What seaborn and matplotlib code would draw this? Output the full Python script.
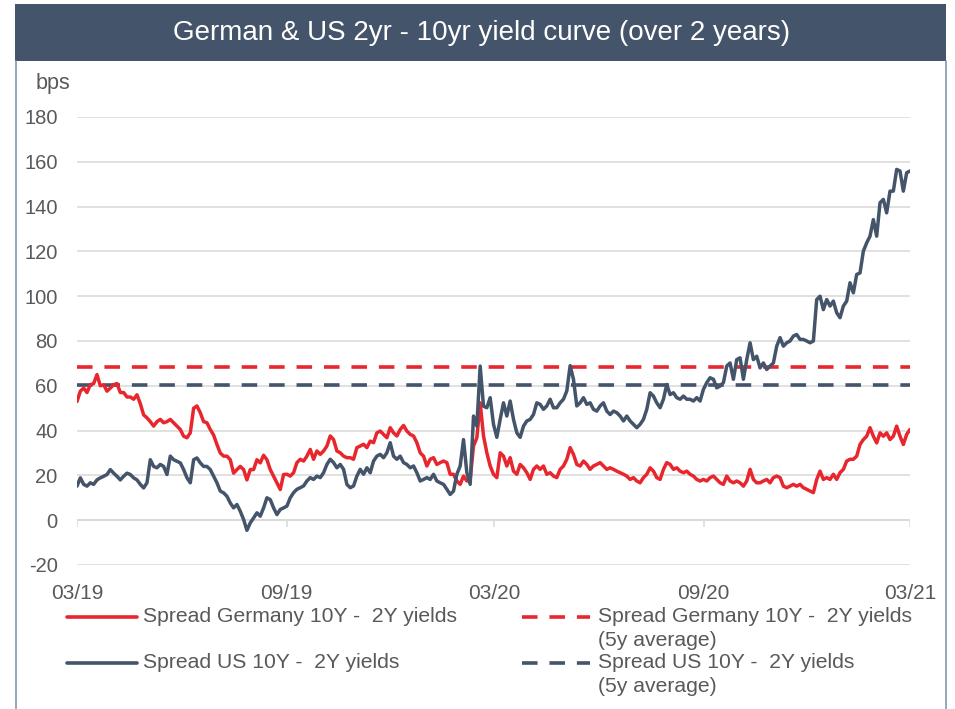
import numpy as np
import pandas as pd
import matplotlib
matplotlib.use("Agg")
import matplotlib.pyplot as plt
from matplotlib.lines import Line2D
from matplotlib.patches import Rectangle
import seaborn as sns

# ---------------- data ----------------
title = "German & US 2yr - 10yr yield curve (over 2 years)"
unit_label = "bps"
start_date = "2019-03-01"
end_date = "2021-03-01"
tick_dates = ["2019-03-01", "2019-09-01", "2020-03-01", "2020-09-01", "2021-03-01"]
tick_labels = ["03/19", "09/19", "03/20", "09/20", "03/21"]
y_ticks = [-20, 0, 20, 40, 60, 80, 100, 120, 140, 160, 180]

legend_labels = [
    "Spread Germany 10Y -  2Y yields",
    "Spread Germany 10Y -  2Y yields\n(5y average)",
    "Spread US 10Y -  2Y yields",
    "Spread US 10Y -  2Y yields\n(5y average)",
]

germany_spread = [
    53, 57.6, 59, 57, 60.5, 61, 65, 60, 60.5, 57.6,
    59, 60.5, 61, 57, 57, 55, 55, 54, 56, 52,
    47, 45.7, 44, 42, 44, 45, 43.5, 44, 45, 43.5,
    42, 40.5, 37.5, 36.8, 39, 50, 51, 48, 44, 43.5,
    40.5, 38, 33.8, 30, 28.6, 28.6, 27, 21, 22.6, 24,
    22.6, 18, 22.6, 22.6, 27, 25.6, 29, 27, 22.6, 19.6,
    16.7, 13.7, 20.4,
    20.5, 19.7, 21.2, 25.7, 27.2, 26.4, 28.6, 31.6, 27.2, 30.9,
    29.4, 30.9, 33.1, 37.6, 36, 30.9, 30.1, 28.6, 27.9, 27.9,
    27.2, 32.4, 33.1, 33.9, 32.4, 35.3, 34.6, 39, 39.8, 38.3,
    36.8, 41.3, 39, 37.6, 40.5, 42.3, 39.8, 38.3, 37.6, 34.6,
    30.1, 28.6, 24.2, 27.2, 27.9, 24.9, 25.7, 26.4, 25.7, 20.5,
    20.5, 17.5, 16, 19.7, 17.5, 18.2, 33.1, 36.8, 52.4, 37.6,
    30.1, 24.2, 20.5,
    19, 30.1, 28.6, 24.2, 27.9, 21.9, 20.5, 24.9, 23.4, 21.2,
    18.2, 22.7, 24.2, 22.7, 24.2, 20.5, 21.2, 19.7, 19, 22.7,
    24.2, 27.2, 32.4, 29.4, 24.9, 24.2, 26.4, 24.9, 22.7, 24.2,
    24.9, 25.7, 24.2, 22.7, 23.4, 22.7, 21.9, 21.2, 20.5, 19.7,
    18.2, 19, 17.5, 16.7, 19, 20.5, 23.4, 21.9, 19, 18.2,
    22.7, 25.7, 24.9, 22.7, 23.4, 21.9, 21.2, 21.9, 20.5, 19.7,
    18.2,
    17.5, 18.2, 17.5, 19, 19.7, 18.2, 16.7, 16, 19.7, 17.5,
    16.7, 17.5, 16.7, 15.2, 17.5, 22.7, 18.2, 16.7, 16.7, 17.5,
    18.2, 16.7, 19, 19.7, 19, 15.2, 14.5, 15.2, 16, 15.2,
    16, 14.5, 13.8, 13, 12.3, 18.2, 21.9, 18.2, 19, 18.2,
    20.5, 18.2, 21.2, 22.7, 26.4, 27.2, 27.2, 28.6, 33.8, 36,
    37.5, 41.3, 37.5, 34.5, 39, 37.5, 39, 36, 37.5, 42,
    37.5, 33.8, 38.3, 40.5,
]

us_spread = [
    15.2, 18.9, 16, 15.2, 16.7, 16, 18, 18.9, 19.6, 20.4,
    22.6, 21, 19.6, 18, 19.6, 21, 20.4, 18.9, 18, 16,
    14.4, 16.7, 27, 24, 23.4, 24.9, 24, 20.4, 28.6, 27,
    26.3, 25.6, 22.6, 18.9, 16.7, 27, 27.8, 25.6, 24, 24,
    22.6, 19.6, 16.7, 13, 12.2, 10.7, 7.7, 5.5, 7, 4,
    0.3, -4.5, -1.2, 1, 3.3, 1.8, 5.5, 10, 9.2, 5.5,
    2.5, 4.8, 5.5,
    6.3, 10, 12.3, 13.8, 14.5, 15.3, 17.5, 19, 18.2, 19.7,
    19, 21.2, 24.9, 27.2, 25.7, 23.4, 24.9, 22.7, 16, 14.5,
    15.3, 19.7, 22.7, 20.5, 23.4, 21.2, 26.4, 28.6, 29.4, 27.9,
    30.1, 34.6, 28.6, 27.2, 28.6, 25.7, 24.9, 23.4, 24.2, 21.2,
    17.5, 18.2, 19, 18.2, 20.5, 17.5, 16.7, 16, 13.8, 11.5,
    13, 20.5, 24.2, 36, 21.2, 16, 46.5, 42, 68.8, 50.9,
    50.2, 54.7, 42.8,
    37, 45, 52.4, 46.5, 53.2, 45, 39, 37, 42, 44.3,
    45, 47.2, 52.4, 51.7, 49.5, 51, 54, 50.2, 50.2, 52.4,
    54, 57.7, 69, 62.9, 51, 52.4, 54.7, 51.7, 52.4, 49.5,
    48.7, 51, 52.4, 48.7, 47.2, 48.7, 48, 46.5, 44.3, 46.5,
    44.3, 42.8, 41.3, 42.8, 45, 49.5, 56.9, 55.4, 52.4, 50.2,
    54, 60.6, 56.1, 56.9, 54.7, 54, 55.4, 54, 54, 53.2,
    54.7,
    53.2, 58.4, 61.4, 63.6, 62.9, 59.1, 59.9, 61.4, 68.8, 70.2,
    62.9, 71.7, 72.5, 62.9, 71.7, 79.2, 71.7, 73.2, 68, 70.2,
    67.3, 68.8, 70.2, 77.7, 81.5, 77.7, 79.2, 80, 82.2, 82.9,
    80.7, 80.7, 80, 79.2, 80, 98.5, 100, 94, 98.5, 95.6,
    97.8, 92.6, 90.4, 95.6, 97.8, 106, 101.5, 109.7, 110.4, 120.1,
    123.8, 126.8, 134.2, 126.8, 141.7, 143.2, 137.2, 146.9, 146.9, 156.6,
    155.9, 146.9, 155.1, 155.9,
]

germany_avg = 68.5
us_avg = 60.5

# ---------------- style ----------------
RED = "#E8262E"
DARK = "#44546A"
GRID = "#D9D9D9"
TEXT = "#595959"
FRAME = "#8497B0"

sns.set_theme(style="white")
plt.rcParams["font.family"] = ["Liberation Sans", "DejaVu Sans"]
plt.rcParams["axes.unicode_minus"] = False

W, H = 955, 709
fig = plt.figure(figsize=(W / 100, H / 100), dpi=100)


def fx(px):
    return px / W


def fy(py):
    return 1 - py / H


# frame + title bar
fig.add_artist(Rectangle((fx(15), fy(61)), fx(946) - fx(15), fy(4) - fy(61),
                         facecolor=DARK, edgecolor="none", transform=fig.transFigure))
for xb in (15.5, 946):
    fig.add_artist(Line2D([fx(xb), fx(xb)], [0, fy(61)], color=FRAME, lw=1.2,
                          transform=fig.transFigure))
fig.text(fx(482), fy(33), title, ha="center", va="center", color="white", fontsize=20)
fig.text(fx(36), fy(84), unit_label, ha="left", va="center", color=TEXT, fontsize=15.5)

ax = fig.add_axes([fx(77), fy(565), fx(910) - fx(77), fy(117) - fy(565)])

dates = pd.date_range(start_date, end_date, periods=len(germany_spread))
df = pd.DataFrame({"date": dates, "germany": germany_spread, "us": us_spread})

ax.set_yticks(y_ticks)
ax.yaxis.grid(True, color=GRID, lw=1.1)
ax.xaxis.grid(False)
ax.set_axisbelow(True)

# zero axis line with ticks
tick_dt = pd.to_datetime(tick_dates)
ax.axhline(0, color=GRID, lw=1.1, zorder=1)
ax.vlines(tick_dt, -3, 0, color=GRID, lw=1.1, zorder=1)

ax.axhline(germany_avg, color=RED, lw=2.6, dashes=(4.3, 3.3), zorder=2)
ax.axhline(us_avg, color=DARK, lw=2.6, dashes=(4.3, 3.3), zorder=2)

sns.lineplot(data=df, x="date", y="germany", ax=ax, color=RED, lw=2.5, zorder=3)
sns.lineplot(data=df, x="date", y="us", ax=ax, color=DARK, lw=2.5, zorder=4)

ax.set_xlim(pd.Timestamp(start_date), pd.Timestamp(end_date))
ax.set_ylim(-20, 180)
ax.set_xticks(tick_dt)
ax.set_xticklabels(tick_labels)
ax.set_xlabel("")
ax.set_ylabel("")
for s in ax.spines.values():
    s.set_visible(False)
ax.tick_params(axis="x", length=0, pad=14, labelsize=15, colors=TEXT)
ax.tick_params(axis="y", length=0, pad=14, labelsize=14.5, colors=TEXT)
ax.set_facecolor("none")

# legend (manual, Excel-like layout)
leg_items = [
    (67, 137, 617, RED, None, legend_labels[0], 143),
    (522, 590, 617, RED, (4.3, 3.3), legend_labels[1], 598),
    (67, 137, 663, DARK, None, legend_labels[2], 143),
    (522, 590, 663, DARK, (4.3, 3.3), legend_labels[3], 598),
]
for x0, x1, yy, col, dsh, lab, tx in leg_items:
    ln = Line2D([fx(x0), fx(x1)], [fy(yy), fy(yy)], color=col, lw=2.6,
                transform=fig.transFigure)
    if dsh is not None:
        ln.set_dashes(dsh)
    fig.add_artist(ln)
    lines = lab.split("\n")
    for i, t in enumerate(lines):
        fig.text(fx(tx), fy(yy + 23.5 * i), t, ha="left", va="center",
                 color=TEXT, fontsize=15.2)

fig.savefig("out.png", dpi=100)
